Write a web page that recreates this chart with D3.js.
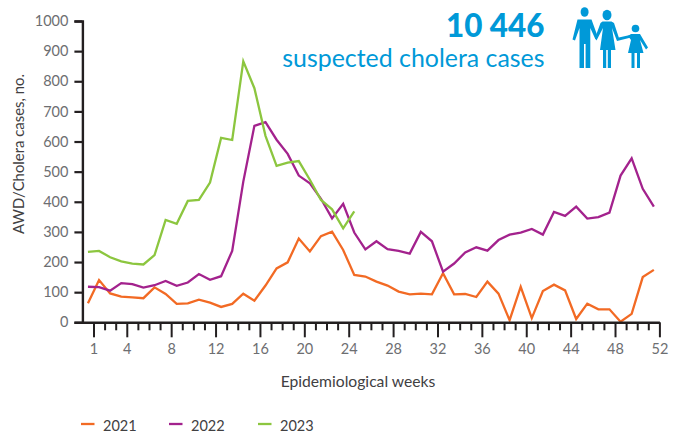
<!DOCTYPE html>
<html><head><meta charset="utf-8">
<script src="https://cdn.jsdelivr.net/npm/d3@7"></script>
<style>
html,body{margin:0;padding:0;background:#fff}
svg{display:block}
text{font-family:Lato,sans-serif}
</style></head><body>
<div id="chart"></div>
<script>
const weeks = Array.from({length:52},(_,i)=>i+1);
const labelledWeeks = [1,4,8,12,16,20,24,28,32,36,40,44,48,52];
const yTicks = [0,100,200,300,400,500,600,700,800,900,1000];
const cases2021 = [63,140,96,85,83,80,116,94,61,63,75,65,51,61,95,72,122,179,199,278,235,286,301,240,157,152,135,122,102,93,95,93,163,93,94,84,135,95,7,118,14,104,125,106,11,62,43,43,2,28,150,174];
const cases2022 = [118,117,105,130,127,115,123,137,121,132,160,141,153,237,467,652,664,606,559,487,461,410,345,393,298,242,269,243,237,228,300,269,168,195,232,249,238,273,291,298,310,291,366,353,384,344,349,364,487,544,443,384];
const cases2023 = [234,237,216,202,195,192,223,340,327,403,406,464,612,605,866,777,619,519,530,535,473,406,375,312,368];
const seriesNames = ["2021","2022","2023"];
const seriesColors = ["#f26a24","#a3228d","#8cc63f"];
const seriesValues = [cases2021,cases2022,cases2023];

const W=682,H=437;
const svg=d3.select("#chart").append("svg").attr("width",W).attr("height",H);
const x=d3.scaleBand().domain(weeks).range([82.4,659.4]);
const y=d3.scaleLinear().domain([0,1000]).range([322.3,21]);
const bw=x.bandwidth();

const line=d3.line().x((d,i)=>x(weeks[i])+bw/2).y(d=>y(d));
seriesValues.forEach((v,i)=>{
  svg.append("path").datum(v).attr("d",line).attr("fill","none")
    .attr("stroke",seriesColors[i]).attr("stroke-width",2.3).attr("stroke-linejoin","miter");
});

const tickFont="14.5px";
const gy=svg.append("g").attr("transform","translate(82.4,0)")
  .call(d3.axisLeft(y).tickValues(yTicks).tickSize(8).tickPadding(6).tickFormat(d3.format("d")));
gy.select(".domain").attr("stroke","#231f20").attr("stroke-width",2.4);
gy.selectAll(".tick line").attr("stroke","#231f20").attr("stroke-width",2.2);
gy.selectAll("text").attr("fill","#6d6e71").style("font-size",tickFont).style("font-family","Lato,sans-serif");

const xt=d3.scaleLinear().domain([0,52]).range([82.4,659.4]);
const gx=svg.append("g").attr("transform","translate(0,322.3)")
  .call(d3.axisBottom(xt).tickValues(weeks).tickSize(8).tickSizeOuter(0).tickPadding(5)
    .tickFormat(d=>labelledWeeks.includes(d)?d:""));
gx.select(".domain").attr("stroke","#231f20").attr("stroke-width",2.4);
gx.selectAll(".tick line").attr("stroke","#231f20").attr("stroke-width",2)
  .attr("y2",d=>labelledWeeks.includes(d)?15:8);
gx.selectAll("text").attr("y",21).attr("fill","#6d6e71").style("font-size",tickFont).style("font-family","Lato,sans-serif");

svg.append("text").attr("transform","translate(24,154) rotate(-90)").attr("text-anchor","middle")
  .attr("fill","#414042").style("font-size","14.9px").text("AWD/Cholera cases, no.");
svg.append("text").attr("x",358).attr("y",387).attr("text-anchor","middle")
  .attr("fill","#414042").style("font-size","15.7px").text("Epidemiological weeks");

const legendX=[81,169,258];
seriesNames.forEach((n,i)=>{
  svg.append("line").attr("x1",legendX[i]).attr("x2",legendX[i]+13.5).attr("y1",424).attr("y2",424)
    .attr("stroke",seriesColors[i]).attr("stroke-width",2.3);
  svg.append("text").attr("x",legendX[i]+22).attr("y",431).attr("fill","#414042")
    .style("font-size","14.5px").text(n);
});

svg.append("text").attr("x",544.5).attr("y",36.5).attr("text-anchor","end").attr("fill","#0099d8")
  .style("font-size","31.4px").style("font-weight",900).text("10 446");
svg.append("text").attr("x",544.5).attr("y",67).attr("text-anchor","end").attr("fill","#0099d8")
  .style("font-size","24.9px").text("suspected cholera cases");

const ic=svg.append("g").attr("fill","#0099d8").attr("stroke","none");
ic.append("ellipse").attr("cx",584.6).attr("cy",12).attr("rx",4).attr("ry",4.8);
ic.append("path").attr("d","M577.5 19.5 H591.5 L597.5 36 L595.5 39.5 L590.3 28 V68 H585.6 V44 H584 V68 H579.5 V28 L575 40.5 L572.5 39.5 Z");
ic.append("ellipse").attr("cx",607).attr("cy",15).attr("rx",4.5).attr("ry",5.2);
ic.append("path").attr("d","M602.5 21.5 H611.5 L614 23 L618.8 37.5 L630 35 L631 37.5 L617 41 L612 28 L615.5 50 H611 V68 H607.8 V50 H606.2 V68 H603 V50 H600 L603 28 L596.5 40.5 L595 38 L600.5 23 Z");
ic.append("circle").attr("cx",635.5).attr("cy",28.5).attr("r",3.8);
ic.append("path").attr("d","M631 34 H640 L648 47.5 L646 49.5 L640 40 L643.5 53 H640 V68 H637 V53 H634.5 V68 H631.5 V53 H628 L631 40 L628 36 Z");
</script>
</body></html>
